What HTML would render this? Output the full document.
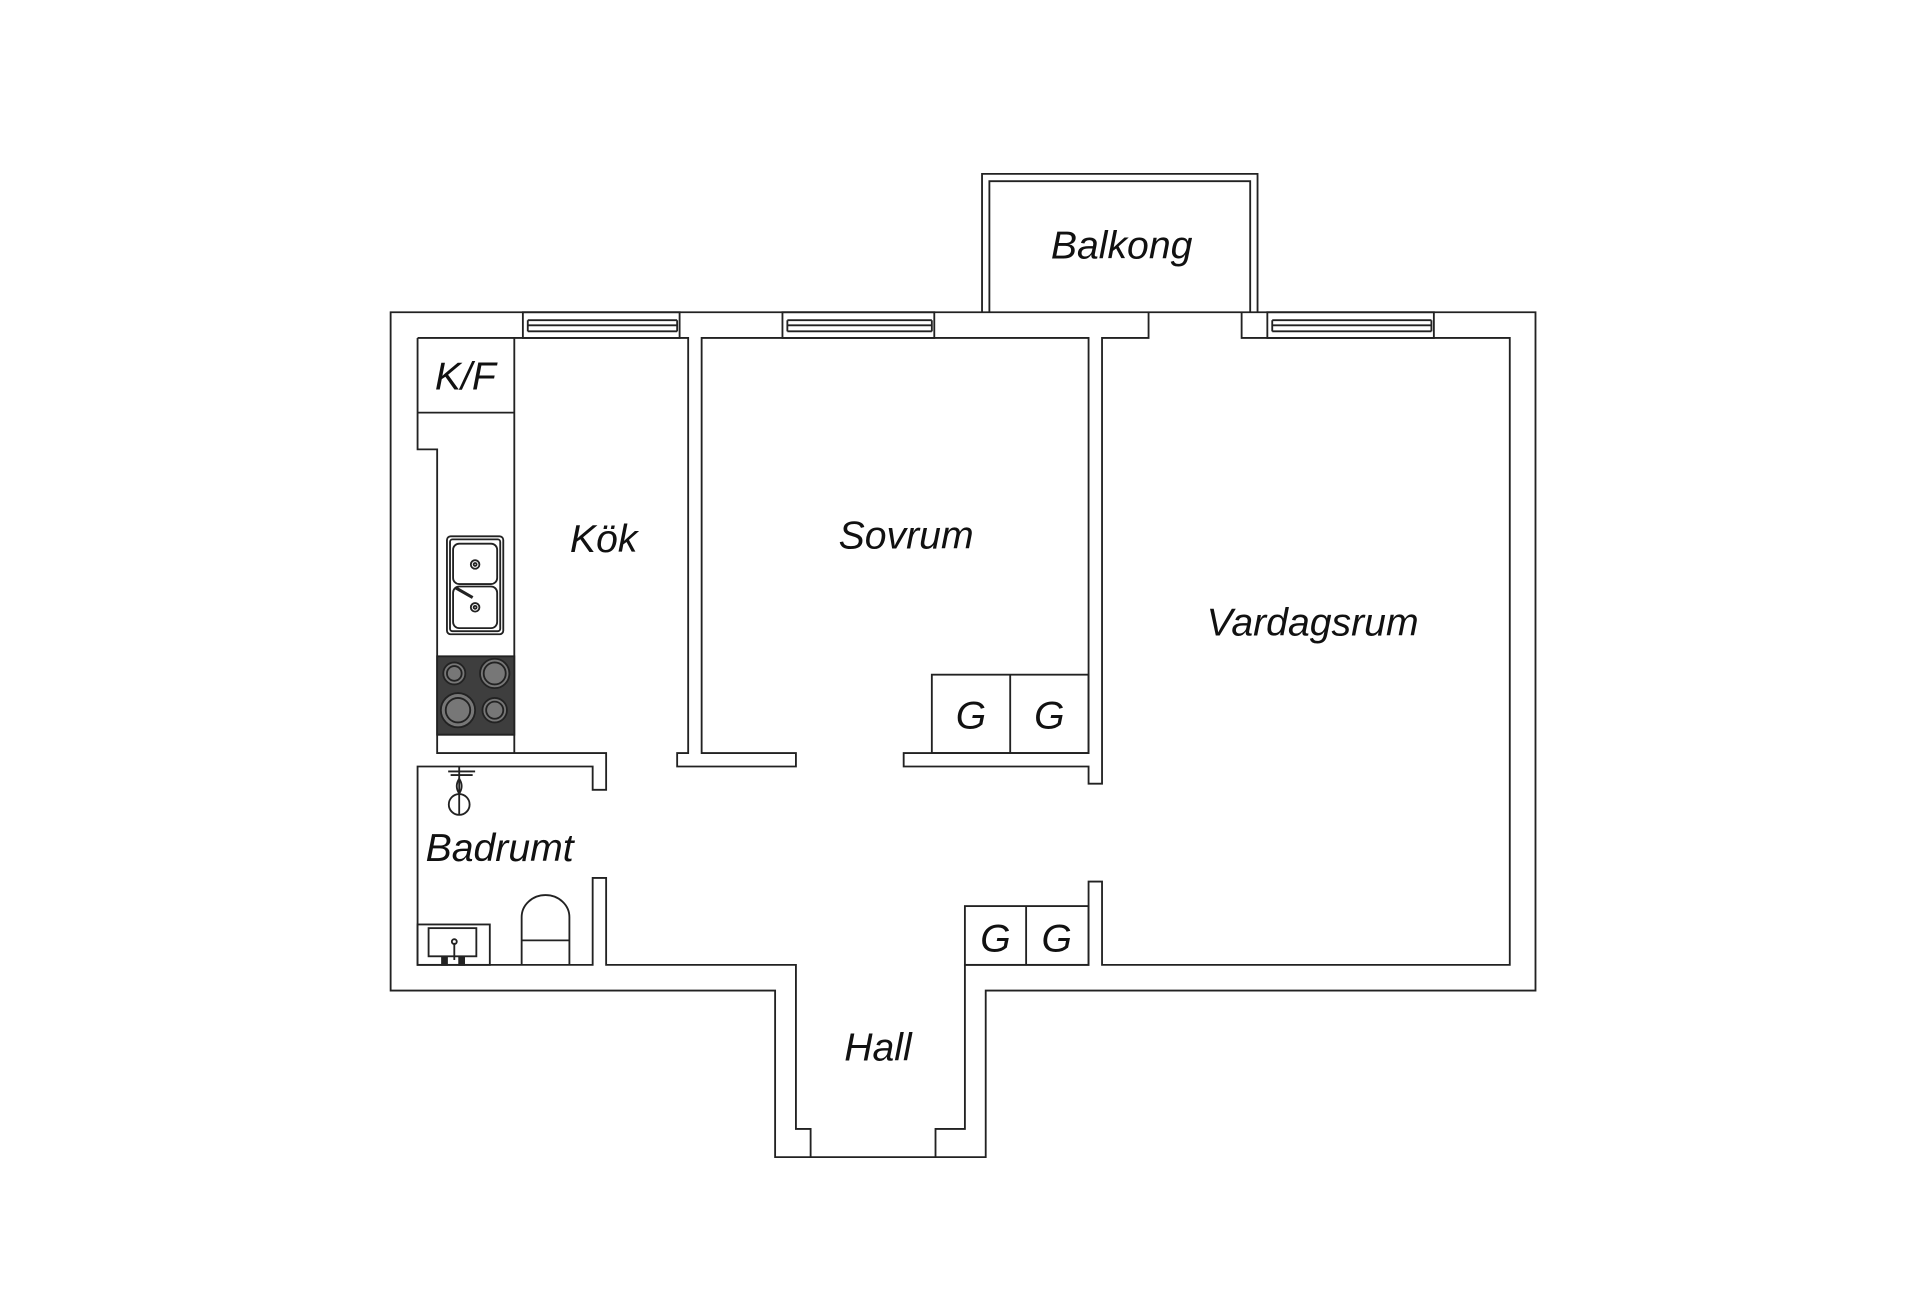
<!DOCTYPE html>
<html><head><meta charset="utf-8"><style>
html,body{margin:0;padding:0;background:#fff;}
svg{display:block;}
text{font-family:"Liberation Sans",sans-serif;font-style:italic;fill:#111;}
</style></head><body>
<svg width="1920" height="1300" viewBox="0 0 1568 1061.7" xmlns="http://www.w3.org/2000/svg">
<g fill="none" stroke="#222" stroke-width="1.5" stroke-linejoin="miter">
<!-- outer contour -->
<path d="M319,255 H1254 V809 H805 V945 H633 V809 H319 Z"/>
<!-- balcony -->
<path d="M802,255 V142 H1027 V255"/>
<path d="M808,255 V148 H1021 V255"/>
<!-- inner contours -->
<path d="M341,276 H562 V615 H553 V626 H650 V615 H573 V276 H889 V615 H738 V626 H889 V640 H900 V276 H938 V255"/>
<path d="M1014,255 V276 H1233 V788 H900 V720 H889 V788 H788 V922 H764 V945"/>
<path d="M662,945 V922 H650 V788 H495 V717 H484 V788 H341 V626 H484 V645 H495 V615 H357 V367 H341 V276"/>
<!-- windows -->
<g>
<rect x="427" y="255" width="128" height="21"/><path d="M431,261.5 H553 M431,265.7 H553 M431,270.6 H553 M431,261.5 V270.6 M553,261.5 V270.6"/>
<rect x="639" y="255" width="124" height="21"/><path d="M643,261.5 H761 M643,265.7 H761 M643,270.6 H761 M643,261.5 V270.6 M761,261.5 V270.6"/>
<rect x="1035" y="255" width="136" height="21"/><path d="M1039,261.5 H1169 M1039,265.7 H1169 M1039,270.6 H1169 M1039,261.5 V270.6 M1169,261.5 V270.6"/>
</g>
<!-- kitchen counter -->
<path d="M420,276 V615 M341,337 H420 M357,600 H420"/>
<!-- sink -->
<rect x="365" y="438" width="46" height="80" rx="3"/>
<rect x="367.5" y="440.5" width="41" height="75" rx="2"/>
<rect x="370" y="444" width="36" height="33" rx="5"/>
<rect x="370" y="479" width="36" height="34" rx="5"/>
<circle cx="388" cy="461" r="3.5"/><circle cx="388" cy="461" r="1.2"/>
<circle cx="388" cy="496" r="3.5"/><circle cx="388" cy="496" r="1.2"/>
<path d="M372,480 L386,488" stroke-width="2.5"/>
<!-- stove -->
<rect x="357" y="536" width="63" height="64" fill="#3e3e3e"/>
<g fill="#777" stroke="#222">
<circle cx="371" cy="550" r="9"/><circle cx="371" cy="550" r="6"/>
<circle cx="404" cy="550" r="12"/><circle cx="404" cy="550" r="9"/>
<circle cx="374" cy="580" r="14"/><circle cx="374" cy="580" r="10"/>
<circle cx="404" cy="580" r="10"/><circle cx="404" cy="580" r="7"/>
</g>
<!-- wardrobes -->
<rect x="761" y="551" width="128" height="64"/><path d="M825,551 V615"/>
<rect x="788" y="740" width="101" height="48"/><path d="M838,740 V788"/>
<!-- bath: shower -->
<path d="M366,630 H388 M368,633 H386 M375,626 V665"/>
<path d="M375,636 q-4,6 0,12 q4,-6 0,-12"/>
<circle cx="375" cy="657" r="8.5"/>
<!-- bath sink -->
<rect x="341" y="755" width="59" height="33"/>
<rect x="350" y="758" width="39" height="23"/>
<path d="M371,770 V784"/><circle cx="371" cy="769" r="2"/>
<path d="M361,782 h4 v6 h-4z M375,782 h4 v6 h-4z" fill="#222"/>
<!-- toilet -->
<path d="M426,788 V749 a19.5,18 0 0 1 39,0 V788 M426,768 H465"/>
</g>
<g font-size="32">
<text x="916" y="211" text-anchor="middle">Balkong</text>
<text x="493" y="451" text-anchor="middle">Kök</text>
<text x="740" y="448" text-anchor="middle">Sovrum</text>
<text x="1072" y="519" text-anchor="middle">Vardagsrum</text>
<text x="408" y="703" text-anchor="middle">Badrumt</text>
<text x="717" y="866" text-anchor="middle">Hall</text>
<text x="380" y="318" text-anchor="middle">K/F</text>
<text x="793" y="595" text-anchor="middle">G</text>
<text x="857" y="595" text-anchor="middle">G</text>
<text x="813" y="777" text-anchor="middle">G</text>
<text x="863" y="777" text-anchor="middle">G</text>
</g>
</svg>
</body></html>
